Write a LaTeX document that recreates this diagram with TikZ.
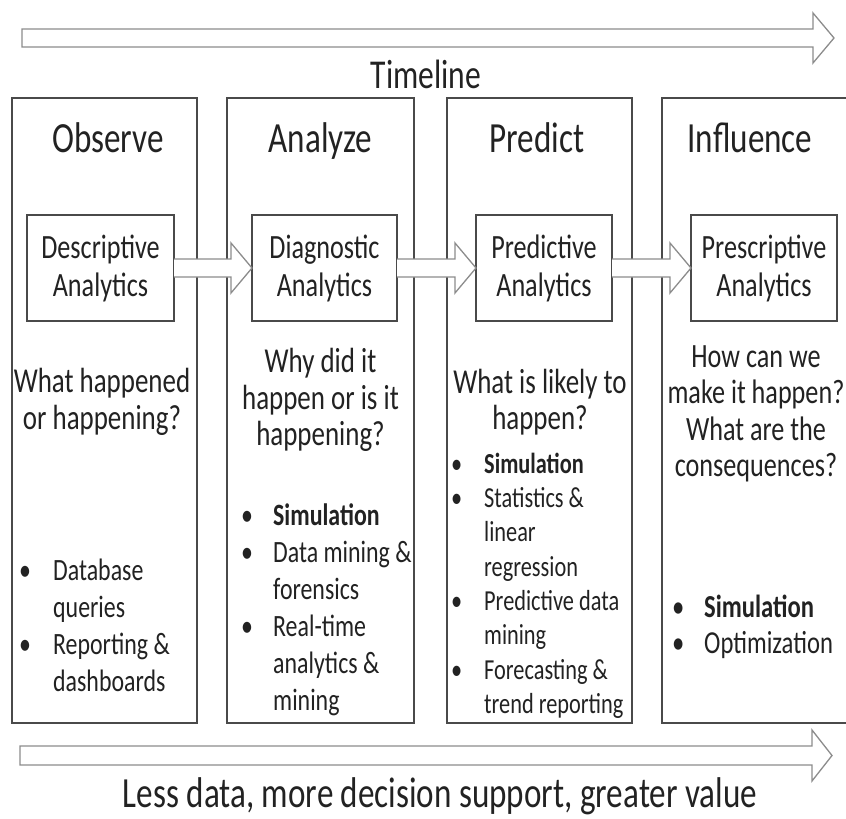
\documentclass[tikz,border=0pt]{standalone}
\usepackage{fontspec}
\setmainfont[FakeStretch=0.77]{Carlito}
\usetikzlibrary{calc}
\definecolor{boxgray}{HTML}{4A4A4A}
\definecolor{arrgray}{HTML}{8C8C8C}
\definecolor{txtcol}{HTML}{222222}
\newcommand\fsz[2]{\fontsize{#1}{#2}\selectfont}
\newcommand\blockarrow[2]{%
  \draw[barrow] ($(#1.east)+(0,-9)$) -- ($(#2.west)+(-21,-9)$) -- ($(#2.west)+(-21,-25)$)
    -- (#2.west) -- ($(#2.west)+(-21,25)$) -- ($(#2.west)+(-21,9)$) -- ($(#1.east)+(0,9)$);}
\begin{document}
\begin{tikzpicture}[x=1pt,y=-1pt,
  colbox/.style={draw=boxgray, line width=1.3pt, outer sep=0pt, minimum height=625pt, anchor=north west},
  inbox/.style={draw=boxgray, line width=1.3pt, outer sep=0pt, minimum height=106pt, align=center,
     font=\fsz{34}{38}, text=txtcol, inner sep=0pt},
  barrow/.style={draw=arrgray, fill=white, line width=1.3pt, line join=miter},
  hdr/.style={font=\fsz{43}{48}, anchor=base, text=txtcol, inner sep=0pt},
  quest/.style={font=\fsz{35}{36.5}, align=center, text=txtcol, inner sep=0pt},
  lst/.style={anchor=north west, inner sep=0pt, text=txtcol},
  big/.style={font=\fsz{43}{50}, anchor=base, text=txtcol, inner sep=0pt}]
\useasboundingbox (0,0) rectangle (846,819);
\fill[white] (0,0) rectangle (846,819);

% timeline arrow
\coordinate (ts) at (22,38);
\coordinate (te) at (834,38);
\draw[barrow] ($(ts)+(0,-9)$) -- ($(te)+(-21,-9)$) -- ($(te)+(-21,-25)$) -- (te)
  -- ($(te)+(-21,25)$) -- ($(te)+(-21,9)$) -- ($(ts)+(0,9)$) -- cycle;
\node[big, font=\fsz{41}{48}] (tl) at (426,88) {Timeline};

% column boxes
\node[colbox, minimum width=185pt] (c1) at (12,98) {};
\node[colbox, minimum width=187pt] (c2) at (227,98) {};
\node[colbox, minimum width=185pt] (c3) at (447,98) {};
\node[colbox, minimum width=186pt] (c4) at (662,98) {};

% headers
\node[hdr] (h1) at (108,152) {Observe};
\node[hdr] (h2) at (320.5,152) {Analyze};
\node[hdr] (h3) at (537,152) {Predict};
\node[hdr] (h4) at (750,152) {Influence};

% inner boxes
\node[inbox, minimum width=147pt] (d1) at (100.5,268) {Descriptive\\Analytics};
\node[inbox, minimum width=145pt] (d2) at (324.5,268) {Diagnostic\\Analytics};
\node[inbox, minimum width=136pt] (d3) at (544,268) {Predictive\\Analytics};
\node[inbox, minimum width=146pt] (d4) at (764,268) {Prescriptive\\Analytics};

\blockarrow{d1}{d2}
\blockarrow{d2}{d3}
\blockarrow{d3}{d4}

% questions
\node[quest] (q1) at (102,402) {What happened\\or happening?};
\node[quest] (q2) at (320.5,400) {Why did it\\happen or is it\\happening?};
\node[quest] (q3) at (540,402) {What is likely to\\happen?};
\node[quest, font=\fsz{34}{36.5}] (q4) at (756,414) {How can we\\make it happen?\\What are the\\consequences?};

% bullet lists
\node[lst] (l1) at (19,554) {\fsz{31}{37}\begin{tabular}{@{}p{34pt}@{}l@{}}
  \textbullet & Database\\ & queries\\ \textbullet & Reporting \&\\ & dashboards\end{tabular}};
\node[lst] (l2) at (241,499) {\fsz{31}{37}\begin{tabular}{@{}p{32pt}@{}l@{}}
  \textbullet & \textbf{Simulation}\\ \textbullet & Data mining \&\\ & forensics\\
  \textbullet & Real-time\\ & analytics \&\\ & mining\end{tabular}};
\node[lst] (l3) at (451,449) {\fsz{29}{34.3}\begin{tabular}{@{}p{33pt}@{}l@{}}
  \textbullet & \textbf{Simulation}\\ \textbullet & Statistics \&\\ & linear\\ & regression\\
  \textbullet & Predictive data\\ & mining\\ \textbullet & Forecasting \&\\ & trend reporting\end{tabular}};
\node[lst] (l4) at (672,592) {\fsz{32}{36}\begin{tabular}{@{}p{32pt}@{}l@{}}
  \textbullet & \textbf{Simulation}\\ \textbullet & Optimization\end{tabular}};

% value arrow
\coordinate (vs) at (20,755.5);
\coordinate (ve) at (832,755.5);
\draw[barrow] ($(vs)+(0,-9.5)$) -- ($(ve)+(-20,-9.5)$) -- ($(ve)+(-20,-25.5)$) -- (ve)
  -- ($(ve)+(-20,25.5)$) -- ($(ve)+(-20,9.5)$) -- ($(vs)+(0,9.5)$) -- cycle;
\node[big] (bt) at (440,807) {Less data, more decision support, greater value};
\end{tikzpicture}
\end{document}
